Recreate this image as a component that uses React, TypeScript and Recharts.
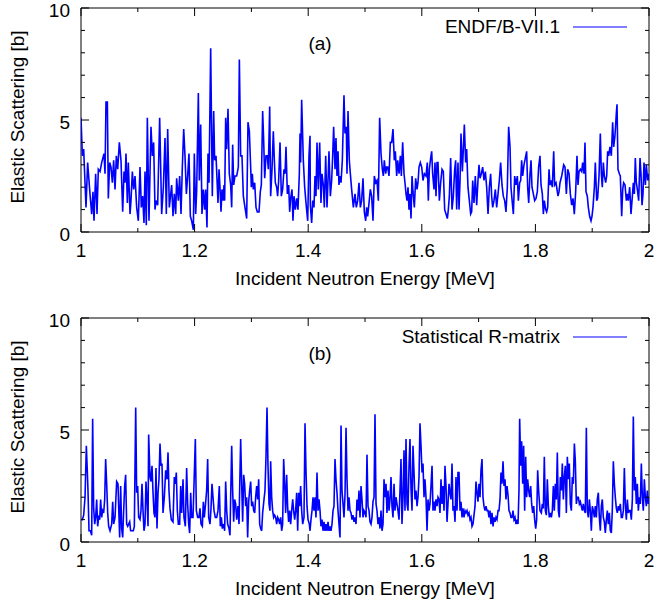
import { Legend, Line, LineChart, ReferenceArea, XAxis, YAxis } from "recharts";

// (a) ENDF/B-VII.1
const energyA = [
  1.0, 1.0024, 1.0047, 1.0088, 1.0117, 1.0158, 1.0188, 1.0211, 1.0229, 1.0258, 1.0282, 1.0305, 1.0335, 1.0364, 1.0405,
  1.0423, 1.044, 1.0464, 1.0481, 1.0505, 1.0528, 1.0552, 1.0575, 1.0599, 1.0622, 1.0646, 1.0675, 1.0704, 1.0734, 1.0757,
  1.0775, 1.0792, 1.0816, 1.0833, 1.0863, 1.088, 1.0904, 1.0927, 1.0951, 1.098, 1.1009, 1.1039, 1.1062, 1.1086, 1.1109,
  1.1127, 1.115, 1.1168, 1.1197, 1.1232, 1.1256, 1.1279, 1.1303, 1.132, 1.135, 1.1385, 1.142, 1.145, 1.1479, 1.1502,
  1.1526, 1.1555, 1.1596, 1.162, 1.1643, 1.1667, 1.1684, 1.1714, 1.1737, 1.1761, 1.1784, 1.1808, 1.1831, 1.1855, 1.1878,
  1.1901, 1.1925, 1.1948, 1.1978, 1.1995,
  1.2019, 1.2036, 1.2066, 1.2083, 1.2107, 1.213, 1.2154, 1.2177, 1.2195, 1.2218, 1.2236, 1.2254, 1.2283, 1.2312, 1.2336,
  1.2353, 1.2377, 1.2412, 1.243, 1.2447, 1.2465, 1.2482, 1.25, 1.2518, 1.2529, 1.2547, 1.2565, 1.2588, 1.2611, 1.2635,
  1.2653, 1.267, 1.2688, 1.2711, 1.2741, 1.277, 1.2788, 1.2811, 1.2834, 1.2858, 1.2887, 1.2917, 1.294, 1.2964, 1.2987,
  1.2999, 1.3016, 1.3034, 1.3058, 1.3081, 1.3104, 1.3134, 1.3157, 1.3175, 1.3198, 1.3216, 1.3234, 1.3257, 1.3281, 1.3298,
  1.3322, 1.3339, 1.3363, 1.3386, 1.3404, 1.3421, 1.3445, 1.3462, 1.348, 1.3504, 1.3527, 1.355, 1.3574, 1.3592, 1.3609,
  1.3633, 1.3656, 1.3674, 1.3691, 1.3715, 1.3732, 1.375, 1.3773, 1.3797, 1.382, 1.3844, 1.3856, 1.3867, 1.3885, 1.3914,
  1.3938, 1.3961, 1.3991, 1.4014, 1.4032,
  1.4038, 1.4061, 1.4079, 1.4102, 1.412, 1.4137, 1.4155, 1.4178, 1.4202, 1.4225, 1.4243, 1.4266, 1.4284, 1.4308, 1.4331,
  1.4349, 1.4366, 1.439, 1.4413, 1.4431, 1.4448, 1.4472, 1.4489, 1.4507, 1.4525, 1.4542, 1.456, 1.4578, 1.4601, 1.463,
  1.4648, 1.4671, 1.4683, 1.4701, 1.4724, 1.4742, 1.4765, 1.4795, 1.4824, 1.4847, 1.4871, 1.4894, 1.4918, 1.4941, 1.4965,
  1.4988, 1.5012, 1.5029, 1.5047, 1.5071, 1.5094, 1.5117, 1.5141, 1.5164, 1.5188, 1.5211, 1.5235, 1.5258, 1.5282, 1.5305,
  1.5323, 1.534, 1.5364, 1.5381, 1.5399, 1.5423, 1.5446, 1.547, 1.5493, 1.5516, 1.5534, 1.5558, 1.5575, 1.5599, 1.5622,
  1.564, 1.5663, 1.5687, 1.5704, 1.5722, 1.574, 1.5757, 1.5775, 1.5792, 1.581, 1.5828, 1.5845, 1.5869, 1.5892, 1.5916,
  1.5933, 1.5951, 1.5974, 1.5998, 1.6021, 1.6045,
  1.6074, 1.6097, 1.6115, 1.6133, 1.6156, 1.6174, 1.6191, 1.6215, 1.6232, 1.625, 1.6268, 1.6285, 1.6309, 1.6332, 1.6356,
  1.6379, 1.6403, 1.6426, 1.645, 1.6467, 1.6485, 1.6508, 1.6532, 1.6555, 1.6579, 1.6596, 1.6614, 1.6637, 1.6655, 1.6673,
  1.669, 1.6714, 1.6731, 1.6749, 1.6772, 1.679, 1.6813, 1.6837, 1.686, 1.6878, 1.6896, 1.6919, 1.6942, 1.6966, 1.6989,
  1.7007, 1.7025, 1.7048, 1.7072, 1.7095, 1.7119, 1.7142, 1.7166, 1.7189, 1.7212, 1.723, 1.7248, 1.7271, 1.7295, 1.7318,
  1.7342, 1.7365, 1.7388, 1.7412, 1.7435, 1.7459, 1.7482, 1.7506, 1.7529, 1.7553, 1.757, 1.7594, 1.7612, 1.7635, 1.7658,
  1.7682, 1.77, 1.7723, 1.7741, 1.7758, 1.7776, 1.7799, 1.7823, 1.7846, 1.7864, 1.7882, 1.7905, 1.7923, 1.794, 1.7964,
  1.7987, 1.8011, 1.8034, 1.8057, 1.8081,
  1.8099, 1.8122, 1.814, 1.8157, 1.8181, 1.8198, 1.8216, 1.824, 1.8257, 1.8275, 1.8298, 1.8322, 1.8339, 1.8363, 1.838,
  1.8398, 1.8416, 1.8433, 1.8463, 1.8498, 1.8521, 1.8545, 1.8568, 1.8592, 1.8615, 1.8639, 1.8662, 1.8685, 1.8709, 1.8732,
  1.875, 1.8768, 1.8791, 1.8815, 1.8832, 1.8856, 1.8873, 1.8891, 1.8914, 1.8932, 1.8955, 1.8979, 1.8996, 1.9014, 1.9038,
  1.9055, 1.9079, 1.9096, 1.912, 1.9143, 1.9161, 1.9178, 1.9196, 1.9214, 1.9237, 1.9255, 1.9272, 1.929, 1.9313, 1.9337,
  1.936, 1.9378, 1.9401, 1.9425, 1.9437, 1.9454, 1.9478, 1.9495, 1.9519, 1.9537, 1.9554, 1.9578, 1.9601, 1.9619, 1.9636,
  1.966, 1.9683, 1.9707, 1.9724, 1.9742, 1.9759, 1.9777, 1.9795, 1.9818, 1.9842, 1.9859, 1.9877, 1.9894, 1.9912, 1.9936,
  1.9953, 1.9977, 1.9994, 2.0,
];
const xsA = [
  5.1, 3.4, 3.7, 1.1, 3.1, 1.7, 0.8, 1.8, 0.5, 2.6, 0.8, 2.8, 2.7, 3.1, 3.5,
  2.6, 5.8, 5.8, 1.5, 3.1, 2.9, 2.2, 3.2, 1.9, 3.4, 2.8, 4.0, 3.2, 0.9, 2.7,
  2.2, 3.5, 1.3, 3.1, 0.8, 1.4, 2.7, 1.9, 2.5, 1.1, 0.5, 2.9, 1.1, 1.6, 0.4,
  2.7, 0.3, 5.1, 0.5, 4.7, 3.4, 4.0, 1.0, 1.4, 1.2, 5.1, 0.8, 2.0, 4.2, 0.8,
  4.6, 1.1, 2.1, 0.7, 1.7, 0.8, 2.4, 1.4, 2.5, 0.8, 2.9, 4.6, 3.4, 1.7, 2.5,
  3.5, 0.7, 0.5, 0.1, 3.5,
  0.8, 1.8, 6.2, 2.3, 4.8, 0.8, 1.9, 1.0, 1.9, 0.2, 3.5, 2.2, 8.2, 1.6, 5.4,
  3.2, 3.4, 1.3, 2.8, 2.0, 0.9, 1.9, 1.4, 2.1, 1.4, 5.1, 3.7, 5.5, 2.6, 2.1,
  1.1, 3.9, 2.1, 2.5, 2.5, 2.9, 7.7, 3.4, 3.4, 1.6, 1.1, 0.6, 4.9, 4.5, 2.9,
  2.0, 2.6, 1.9, 2.2, 1.1, 0.9, 0.9, 1.8, 2.1, 5.4, 4.1, 2.4, 3.4, 3.4, 2.8,
  5.6, 1.6, 2.8, 4.5, 3.2, 2.2, 2.0, 1.6, 2.3, 4.0, 1.6, 1.9, 2.8, 2.6, 3.8,
  1.7, 2.1, 0.9, 1.5, 1.9, 0.5, 1.6, 1.0, 1.5, 1.0, 2.6, 4.4, 3.1, 5.9, 3.2,
  2.0, 1.3, 0.5, 3.4, 4.3,
  1.2, 0.4, 1.4, 1.1, 2.5, 1.6, 4.0, 1.9, 4.0, 1.3, 2.6, 2.1, 1.1, 3.4, 1.1,
  2.3, 3.6, 1.6, 2.3, 3.4, 4.7, 2.8, 4.2, 2.5, 3.6, 2.1, 2.5, 2.2, 3.2, 6.1,
  4.4, 4.7, 2.6, 5.4, 3.2, 2.6, 1.9, 1.1, 1.7, 1.1, 1.4, 2.2, 1.1, 1.4, 2.4,
  0.9, 0.5, 1.1, 0.7, 1.3, 1.9, 1.6, 0.5, 2.5, 2.2, 2.3, 1.4, 5.1, 3.5, 2.8,
  2.5, 3.2, 2.6, 2.9, 2.9, 2.5, 4.0, 4.0, 4.6, 3.2, 3.6, 2.5, 3.2, 2.6, 3.4,
  2.5, 4.0, 2.6, 2.2, 1.7, 1.4, 2.0, 1.0, 1.7, 0.6, 2.5, 1.8, 1.1, 2.4, 1.9,
  2.2, 2.9, 3.1, 2.9, 2.3, 2.6,
  2.5, 3.1, 1.4, 2.8, 3.3, 3.6, 2.6, 1.9, 3.1, 1.6, 3.1, 3.1, 1.4, 2.2, 2.8,
  2.7, 1.0, 0.8, 0.6, 1.0, 1.6, 3.3, 1.0, 1.6, 2.8, 3.2, 1.0, 3.1, 1.0, 2.3,
  4.4, 2.7, 3.7, 4.8, 3.1, 3.7, 2.0, 1.4, 0.8, 0.9, 2.3, 1.3, 2.5, 1.2, 2.3,
  3.0, 2.4, 2.6, 2.9, 2.3, 2.7, 2.0, 0.8, 2.0, 2.6, 1.6, 1.1, 1.4, 1.9, 1.1,
  1.7, 2.3, 3.1, 2.1, 1.6, 1.4, 0.9, 2.0, 4.7, 3.8, 2.0, 1.3, 0.8, 2.5, 2.1,
  2.5, 1.4, 2.2, 2.3, 3.2, 2.5, 3.0, 3.3, 3.6, 2.0, 1.3, 2.6, 3.2, 2.0, 1.7,
  1.4, 1.5, 1.8, 2.9, 3.4,
  2.1, 1.7, 0.8, 1.4, 1.0, 0.9, 1.1, 2.8, 2.1, 2.3, 2.0, 3.6, 2.1, 2.2, 1.9,
  1.6, 1.8, 2.2, 2.5, 3.0, 2.9, 1.7, 2.8, 2.6, 1.7, 1.2, 1.5, 0.8, 1.8, 3.4,
  2.1, 2.7, 2.8, 2.7, 3.1, 2.6, 4.0, 1.8, 1.6, 1.1, 0.7, 0.5, 0.7, 1.1, 2.0,
  3.1, 1.4, 1.5, 2.5, 4.4, 2.6, 2.0, 3.1, 2.5, 2.2, 2.5, 3.6, 3.4, 3.8, 3.4,
  4.9, 3.8, 4.3, 5.3, 5.7, 2.8, 2.6, 2.5, 0.7, 1.9, 2.2, 2.1, 1.4, 1.7, 1.4,
  2.0, 0.8, 1.6, 2.2, 1.7, 3.3, 2.2, 1.9, 1.4, 3.3, 2.6, 1.2, 1.7, 3.1, 2.1,
  3.0, 2.3, 2.6, 2.3,
];

// (b) Statistical R-matrix
const energyB = [
  1.0, 1.0024, 1.0047, 1.0071, 1.0094, 1.0112, 1.0123, 1.0141, 1.0164, 1.0188, 1.0205, 1.0223, 1.0241, 1.0258, 1.0276,
  1.0293, 1.0311, 1.0329, 1.0346, 1.0364, 1.0381, 1.0399, 1.0417, 1.0434, 1.0452, 1.047, 1.0487, 1.0511, 1.054, 1.0558,
  1.0575, 1.0599, 1.0628, 1.0651, 1.0669, 1.0681, 1.0698, 1.0716, 1.0734, 1.0751, 1.0769, 1.0786, 1.0804, 1.0822, 1.0839,
  1.0857, 1.0874, 1.0898, 1.0921, 1.0939, 1.0963, 1.098, 1.0998, 1.1015, 1.1039, 1.1056, 1.1074, 1.1092, 1.1109, 1.1127,
  1.1144, 1.1162, 1.118, 1.1191, 1.1215, 1.1232, 1.125, 1.1268, 1.1285, 1.1303, 1.132, 1.1338, 1.1356, 1.1373, 1.1391,
  1.1408, 1.1426, 1.1444, 1.1467, 1.1491, 1.1514, 1.1532, 1.1549, 1.1567, 1.159, 1.162, 1.1643, 1.1661, 1.1678, 1.1696,
  1.1714, 1.1737, 1.1755, 1.1772, 1.1796, 1.1813, 1.1837, 1.186, 1.1878, 1.1896, 1.1913, 1.1931, 1.1948, 1.1972,
  1.2013, 1.2031, 1.2054, 1.2077, 1.2095, 1.2113, 1.2136, 1.2154, 1.2171, 1.2189, 1.2212, 1.223, 1.2248, 1.2271, 1.2289,
  1.2306, 1.2324, 1.2342, 1.2365, 1.2389, 1.2412, 1.2435, 1.2453, 1.2471, 1.2488, 1.2512, 1.2529, 1.2547, 1.2565, 1.2582,
  1.2606, 1.2623, 1.2635, 1.2653, 1.267, 1.2688, 1.2705, 1.2723, 1.2741, 1.2764, 1.2782, 1.2793, 1.2811, 1.2829, 1.2846,
  1.2864, 1.2881, 1.2899, 1.2917, 1.2934, 1.2952, 1.2969, 1.2987, 1.3005, 1.3022, 1.304, 1.3058, 1.3075, 1.3093, 1.311,
  1.3128, 1.3146, 1.3163, 1.3181, 1.3198, 1.3222, 1.3239, 1.3257, 1.3275, 1.3292, 1.331, 1.3327, 1.3339, 1.3357, 1.3374,
  1.3392, 1.341, 1.3427, 1.3445, 1.3462, 1.348, 1.3498, 1.3515, 1.3533, 1.355, 1.3568, 1.3586, 1.3603, 1.3621, 1.3639,
  1.3656, 1.3674, 1.3691, 1.3709, 1.3727, 1.3744, 1.3762, 1.3779, 1.3797, 1.3815, 1.3832, 1.385, 1.3867, 1.3885, 1.3903,
  1.3926, 1.3944, 1.3961, 1.3979, 1.3997, 1.402,
  1.4032, 1.4049, 1.4067, 1.4085, 1.4102, 1.412, 1.4137, 1.4155, 1.4173, 1.419, 1.4208, 1.4225, 1.4243, 1.4261, 1.4278,
  1.4296, 1.4313, 1.4331, 1.4349, 1.4366, 1.4384, 1.4401, 1.4419, 1.4437, 1.4454, 1.4472, 1.4489, 1.4507, 1.4525, 1.4542,
  1.456, 1.4578, 1.4595, 1.4613, 1.463, 1.4648, 1.4666, 1.4683, 1.4701, 1.4718, 1.4736, 1.4754, 1.4771, 1.4789, 1.4806,
  1.4824, 1.4842, 1.4859, 1.4877, 1.4894, 1.4912, 1.493, 1.4947, 1.4965, 1.4982, 1.5, 1.5018, 1.5035, 1.5053, 1.5071,
  1.5088, 1.5106, 1.5123, 1.5141, 1.5159, 1.5176, 1.5194, 1.5211, 1.5229, 1.5247, 1.5264, 1.5282, 1.5299, 1.5317, 1.5335,
  1.5352, 1.537, 1.5387, 1.5405, 1.5423, 1.544, 1.5458, 1.5475, 1.5493, 1.5511, 1.5528, 1.5546, 1.5563, 1.5581, 1.5599,
  1.5616, 1.5634, 1.5651, 1.5669, 1.5687, 1.5704, 1.5722, 1.574, 1.5757, 1.5775, 1.5792, 1.581, 1.5828, 1.5845, 1.5863,
  1.588, 1.5898, 1.5916, 1.5933, 1.5951, 1.5968, 1.5986, 1.6004, 1.6021, 1.6039, 1.6056,
  1.6074, 1.6092, 1.6109, 1.6127, 1.6144, 1.6162, 1.618, 1.6197, 1.6215, 1.6232, 1.625, 1.6268, 1.6285, 1.6303, 1.632,
  1.6338, 1.6356, 1.6373, 1.6391, 1.6408, 1.6426, 1.6444, 1.6461, 1.6479, 1.6496, 1.6514, 1.6532, 1.6549, 1.6567, 1.6585,
  1.6602, 1.662, 1.6637, 1.6655, 1.6673, 1.669, 1.6708, 1.6725, 1.6743, 1.6761, 1.6778, 1.6796, 1.6813, 1.6831, 1.6849,
  1.6866, 1.6884, 1.6901, 1.6919, 1.6937, 1.6954, 1.6972, 1.6989, 1.7007, 1.7025, 1.7042, 1.706, 1.7077, 1.7095, 1.7113,
  1.713, 1.7148, 1.7166, 1.7183, 1.7201, 1.7218, 1.7236, 1.7254, 1.7271, 1.7289, 1.7306, 1.7324, 1.7342, 1.7359, 1.7377,
  1.7394, 1.7412, 1.743, 1.7447, 1.7465, 1.7482, 1.75, 1.7518, 1.7535, 1.7553, 1.757, 1.7588, 1.7606, 1.7623, 1.7641,
  1.7658, 1.7676, 1.7694, 1.7711, 1.7723, 1.7741, 1.7758, 1.7776, 1.7793, 1.7811, 1.7829, 1.7846, 1.7864, 1.7881, 1.7899,
  1.7917, 1.7934, 1.7952, 1.797, 1.7987, 1.8005, 1.8022, 1.804, 1.8057, 1.8081,
  1.8105, 1.8122, 1.814, 1.8157, 1.8175, 1.8193, 1.821, 1.8228, 1.8245, 1.8263, 1.8281, 1.8298, 1.8316, 1.8333, 1.8351,
  1.8369, 1.8386, 1.8404, 1.8421, 1.8439, 1.8457, 1.8474, 1.8492, 1.8509, 1.8527, 1.8545, 1.8562, 1.858, 1.8597, 1.8615,
  1.8633, 1.865, 1.8668, 1.8686, 1.8703, 1.8721, 1.8738, 1.8756, 1.8774, 1.8791, 1.8809, 1.8826, 1.8844, 1.8862, 1.8879,
  1.8897, 1.8914, 1.8932, 1.895, 1.8967, 1.8985, 1.9002, 1.902, 1.9038, 1.9055, 1.9073, 1.909, 1.9108, 1.9126, 1.9143,
  1.9161, 1.9178, 1.9196, 1.9214, 1.9231, 1.9249, 1.9266, 1.9284, 1.9302, 1.9319, 1.9337, 1.9354, 1.9372, 1.939, 1.9407,
  1.9425, 1.9442, 1.946, 1.9478, 1.9495, 1.9513, 1.9531, 1.9548, 1.9566, 1.9583, 1.9601, 1.9619, 1.9636, 1.9654, 1.9671,
  1.9689, 1.9707, 1.9724, 1.9742, 1.9759, 1.9777, 1.9795, 1.9812, 1.983, 1.9847, 1.9865, 1.9883, 1.99, 1.9918, 1.9936,
  1.9953, 1.9971, 1.9988, 2.0,
];
const xsB = [
  1.0, 1.0, 1.2, 2.0, 4.3, 3.1, 2.3, 0.5, 0.5, 0.3, 5.5, 1.5, 0.8, 1.1, 1.9,
  0.7, 1.1, 1.0, 1.9, 1.1, 1.4, 1.3, 1.9, 3.7, 2.6, 1.3, 0.7, 0.5, 0.8, 1.8,
  0.8, 1.1, 2.7, 2.6, 1.1, 0.2, 2.5, 0.6, 0.2, 1.4, 2.5, 3.0, 0.8, 0.7, 0.8,
  0.9, 0.5, 0.5, 0.5, 0.7, 6.0, 2.2, 2.5, 1.1, 1.0, 1.4, 2.6, 1.4, 0.5, 0.8,
  2.7, 1.9, 0.7, 4.8, 2.9, 2.7, 3.4, 2.2, 1.3, 1.1, 3.3, 0.6, 2.2, 2.8, 4.4,
  3.4, 3.5, 1.3, 2.0, 3.2, 2.8, 4.0, 2.3, 1.5, 1.0, 0.9, 2.9, 2.6, 3.1, 1.4,
  0.8, 0.8, 2.5, 1.3, 2.8, 1.1, 0.7, 3.3, 1.7, 0.8, 0.4, 2.2, 1.1, 1.1,
  4.6, 1.4, 1.1, 1.1, 1.5, 0.8, 0.7, 1.8, 1.1, 1.6, 2.3, 3.7, 1.1, 0.8, 1.5,
  2.6, 2.0, 1.4, 1.1, 1.1, 1.4, 2.5, 0.7, 1.1, 0.6, 0.8, 0.5, 2.7, 1.4, 0.8,
  0.6, 0.3, 2.0, 4.3, 2.3, 0.9, 1.9, 1.7, 1.0, 1.6, 0.8, 2.3, 4.6, 2.6, 0.9,
  3.0, 2.6, 1.6, 2.0, 0.2, 1.8, 2.3, 2.7, 1.6, 1.8, 1.4, 1.3, 2.0, 2.5, 1.9,
  2.8, 0.8, 0.6, 0.5, 1.3, 1.9, 2.3, 3.8, 6.0, 3.4, 1.7, 1.4, 3.6, 2.0, 1.4,
  1.1, 1.2, 1.1, 0.8, 1.1, 1.0, 0.8, 1.1, 0.5, 0.8, 3.7, 2.6, 1.3, 3.0, 1.5,
  0.9, 1.4, 0.8, 1.4, 1.9, 1.4, 1.0, 1.4, 2.2, 0.5, 2.2, 1.6, 2.5, 1.4, 0.8,
  1.1, 5.3, 3.2, 1.6, 1.0, 0.8,
  0.5, 1.0, 1.4, 2.0, 1.4, 2.0, 1.1, 3.1, 1.4, 1.9, 1.4, 0.7, 1.0, 0.5, 0.9,
  0.5, 0.8, 0.5, 0.9, 0.5, 0.7, 0.5, 0.8, 1.4, 1.6, 3.7, 2.8, 2.2, 1.4, 0.8,
  0.2, 5.2, 2.3, 1.7, 1.1, 2.1, 5.1, 2.8, 1.4, 2.0, 1.4, 1.3, 1.0, 1.2, 0.9,
  1.1, 0.8, 1.9, 1.4, 2.3, 1.1, 2.5, 1.9, 1.1, 1.4, 1.3, 1.1, 3.9, 1.6, 1.4,
  0.9, 0.8, 1.1, 1.8, 2.0, 5.7, 1.7, 1.4, 0.8, 1.1, 0.6, 1.4, 0.5, 0.8, 2.8,
  2.0, 2.6, 1.3, 2.3, 1.4, 1.9, 2.9, 1.6, 1.1, 2.6, 1.4, 2.0, 1.7, 1.4, 1.0,
  2.3, 3.7, 0.8, 2.0, 4.1, 1.4, 4.6, 1.7, 1.4, 3.4, 4.6, 2.4, 1.4, 4.3, 3.1,
  1.9, 2.3, 1.6, 2.0, 2.9, 5.3, 4.3, 3.1, 3.5, 2.0, 2.8,
  2.0, 0.5, 1.9, 1.4, 1.7, 2.5, 3.4, 1.4, 1.8, 1.4, 1.9, 1.6, 2.0, 1.9, 1.3,
  2.8, 1.7, 2.5, 1.4, 3.4, 2.5, 0.9, 1.7, 2.6, 2.2, 1.9, 3.5, 1.4, 1.6, 0.9,
  2.9, 1.4, 3.1, 3.1, 1.4, 1.8, 1.1, 1.5, 1.1, 1.4, 1.3, 1.4, 1.2, 1.3, 1.0,
  1.1, 0.7, 0.8, 1.2, 1.6, 2.7, 2.2, 1.8, 2.6, 2.0, 3.2, 3.7, 2.0, 1.6, 1.4,
  1.6, 1.4, 1.4, 1.1, 1.4, 0.8, 1.3, 0.7, 1.1, 0.9, 1.1, 1.0, 1.4, 1.4, 1.9,
  3.1, 2.6, 3.6, 2.5, 2.8, 1.9, 2.5, 2.1, 1.4, 1.3, 1.1, 1.1, 1.4, 1.0, 1.1,
  0.8, 1.0, 0.8, 2.3, 5.5, 3.4, 4.5, 2.6, 4.3, 1.4, 3.8, 2.0, 2.8, 2.3, 2.0,
  2.5, 1.7, 1.3, 1.6, 1.0, 0.6, 1.0, 3.2, 2.3, 1.4,
  1.3, 1.7, 1.5, 3.8, 1.4, 1.2, 2.8, 1.6, 1.1, 1.3, 1.1, 1.4, 2.5, 1.4, 2.6,
  1.9, 4.0, 1.4, 1.1, 2.9, 2.3, 3.5, 1.9, 2.9, 3.4, 1.3, 3.8, 2.8, 3.5, 1.7,
  1.4, 2.9, 2.6, 4.4, 3.6, 1.7, 2.0, 2.0, 1.7, 1.8, 1.6, 1.4, 1.7, 1.4, 1.3,
  5.1, 1.4, 1.1, 1.9, 1.4, 0.5, 1.6, 1.4, 1.1, 1.6, 1.1, 1.9, 2.2, 1.1, 0.5,
  1.6, 1.9, 1.1, 0.9, 0.4, 1.0, 1.4, 0.8, 1.3, 0.5, 0.4, 1.4, 3.6, 2.6, 2.0,
  1.5, 1.3, 1.6, 1.4, 1.7, 1.1, 1.1, 1.4, 3.3, 1.7, 1.0, 1.9, 1.3, 1.4, 1.4,
  1.0, 1.9, 5.6, 2.3, 2.9, 1.7, 2.6, 1.4, 2.0, 1.7, 3.5, 2.0, 1.4, 2.8, 2.0,
  1.6, 2.3, 1.7, 2.0,
];

const xTicks = [1, 1.1, 1.2, 1.3, 1.4, 1.5, 1.6, 1.7, 1.8, 1.9, 2];
const xLabelTicks = [1, 1.2, 1.4, 1.6, 1.8, 2];
const yTicks = [0, 1, 2, 3, 4, 5, 6, 7, 8, 9, 10];
const yLabelTicks = [0, 5, 10];

const W = 655;
const H = 300;
const TOP = 8;
const BOTTOM = 232;
const LEFT = 81;
const RIGHT = 649;
const FONT = '"Liberation Sans", Arial, Helvetica, sans-serif';
const FS = 19;
const BLUE = "#0000ff";

function XTick({ x, payload }: any) {
  const major = xLabelTicks.includes(payload.value);
  const len = major ? 8 : 4;
  return (
    <g>
      <line x1={x} x2={x} y1={BOTTOM} y2={BOTTOM - len} stroke="#000" />
      <line x1={x} x2={x} y1={TOP} y2={TOP + len} stroke="#000" />
      {major && (
        <text x={x} y={BOTTOM + 18} textAnchor="middle" dominantBaseline="central" fontSize={FS} fontFamily={FONT} fill="#000">
          {payload.value}
        </text>
      )}
    </g>
  );
}

function YTick({ y, payload }: any) {
  const major = yLabelTicks.includes(payload.value);
  const len = major ? 8 : 4;
  return (
    <g>
      <line x1={LEFT} x2={LEFT + len} y1={y} y2={y} stroke="#000" />
      <line x1={RIGHT} x2={RIGHT - len} y1={y} y2={y} stroke="#000" />
      {major && (
        <text x={LEFT - 11} y={y + 2} textAnchor="end" dominantBaseline="central" fontSize={FS} fontFamily={FONT} fill="#000">
          {payload.value}
        </text>
      )}
    </g>
  );
}

const XTitle = () => (
  <text x={(LEFT + RIGHT) / 2} y={278} textAnchor="middle" dominantBaseline="central" fontSize={FS} fontFamily={FONT} fill="#000">
    Incident Neutron Energy [MeV]
  </text>
);

const YTitle = () => (
  <text x={17} y={117} transform="rotate(-90 17 117)" textAnchor="middle" dominantBaseline="central" fontSize={FS} fontFamily={FONT} fill="#000">
    Elastic Scattering [b]
  </text>
);

function Panel({ energy, xs, name, tag, top }: { energy: number[]; xs: number[]; name: string; tag: string; top: number }) {
  const data = energy.map((e, i) => ({ energy: e, xs: xs[i] }));
  return (
    <div style={{ position: "absolute", left: 0, top, width: W, height: H }}>
      <LineChart width={W} height={H} data={data} margin={{ top: TOP, right: W - RIGHT, left: 0, bottom: 0 }}>
        <XAxis
          dataKey="energy"
          type="number"
          domain={[1, 2]}
          ticks={xTicks}
          interval={0}
          allowDataOverflow
          axisLine={false}
          tickLine={false}
          tick={(p: any) => <XTick {...p} />}
          height={H - BOTTOM}
          label={<XTitle />}
        />
        <YAxis
          type="number"
          domain={[0, 10]}
          ticks={yTicks}
          interval={0}
          allowDataOverflow
          axisLine={false}
          tickLine={false}
          tick={(p: any) => <YTick {...p} />}
          width={LEFT}
          label={<YTitle />}
        />
        <ReferenceArea x1={1} x2={2} y1={0} y2={10} fill="none" stroke="#000" strokeWidth={1} fillOpacity={0} />
        <Legend
          layout="vertical"
          align="center"
          verticalAlign="middle"
          wrapperStyle={{ top: 16, left: 327, width: 300, height: 22 }}
          content={() => (
            <div style={{ display: "flex", justifyContent: "flex-end", alignItems: "center", height: 22, fontFamily: FONT, fontSize: FS, color: "#000" }}>
              <span>{name}</span>
              <svg width={54} height={4} style={{ marginLeft: 13 }}>
                <line x1={0} x2={54} y1={2} y2={2} stroke={BLUE} strokeWidth={1.2} />
              </svg>
            </div>
          )}
        />
        <Line type="linear" dataKey="xs" name={name} stroke={BLUE} strokeWidth={1.6} dot={false} isAnimationActive={false} />
      </LineChart>
      <div style={{ position: "absolute", left: 300, top: 33, width: 40, lineHeight: "22px", textAlign: "center", fontFamily: FONT, fontSize: FS, color: "#000" }}>
        {tag}
      </div>
    </div>
  );
}

export default function App() {
  return (
    <div style={{ position: "absolute", left: 0, top: 0, width: 655, height: 607, background: "#fff", overflow: "hidden" }}>
      <Panel energy={energyA} xs={xsA} name="ENDF/B-VII.1" tag="(a)" top={0} />
      <Panel energy={energyB} xs={xsB} name="Statistical R-matrix" tag="(b)" top={310} />
    </div>
  );
}
